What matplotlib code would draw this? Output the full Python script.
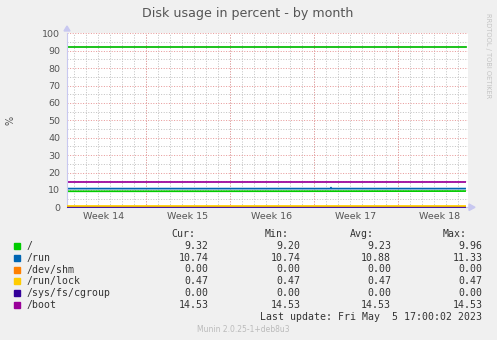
import matplotlib
matplotlib.use("Agg")
import matplotlib.pyplot as plt
from matplotlib.patches import Rectangle, Polygon

# ---------------- data ----------------
labels = ["/", "/run", "/dev/shm", "/run/lock", "/sys/fs/cgroup", "/boot"]
colors = ["#00CC00", "#0066B3", "#FF8000", "#FFCC00", "#330099", "#990099"]
line_z = [3, 3, 3, 3.4, 3.2, 3]

# time axis in days since left edge of graph
root_days = [0.0, 10.0, 20.0, 33.25]
root_vals = [9.20, 9.22, 9.25, 9.32]
run_days = [0.0, 21.96, 22.0, 22.04, 33.25]
run_vals = [10.74, 10.74, 11.33, 10.74, 10.74]
shm_days = [0.0, 33.25]
shm_vals = [0.00, 0.00]
lock_days = [0.0, 33.25]
lock_vals = [0.47, 0.47]
cgroup_days = [0.0, 33.25]
cgroup_vals = [0.00, 0.00]
boot_days = [0.0, 33.25]
boot_vals = [14.53, 14.53]
warning_days = [0.0, 33.25]
warning_vals = [92.0, 92.0]

series_days = [root_days, run_days, shm_days, lock_days, cgroup_days, boot_days]
series_vals = [root_vals, run_vals, shm_vals, lock_vals, cgroup_vals, boot_vals]

week_labels = ["Week 14", "Week 15", "Week 16", "Week 17", "Week 18"]
first_week_boundary = 6.56
x_max = 33.42

cur = ["9.32", "10.74", "0.00", "0.47", "0.00", "14.53"]
mins = ["9.20", "10.74", "0.00", "0.47", "0.00", "14.53"]
avgs = ["9.23", "10.88", "0.00", "0.47", "0.00", "14.53"]
maxs = ["9.96", "11.33", "0.00", "0.47", "0.00", "14.53"]

title = "Disk usage in percent - by month"
last_update = "Last update: Fri May  5 17:00:02 2023"
munin_ver = "Munin 2.0.25-1+deb8u3"

# ---------------- figure ----------------
W, H = 497, 340
fig = plt.figure(figsize=(W / 100, H / 100), dpi=100, facecolor="#F0F0F0")

def fx(px):
    return px / W

def fy(py):
    return 1 - py / H

ax = fig.add_axes([fx(67), fy(207.3), fx(468) - fx(67), (207.3 - 33.3) / H])
ax.set_facecolor("white")
ax.set_xlim(0, x_max)
ax.set_ylim(0, 100)

week_bounds = [first_week_boundary + 7 * k for k in range(4)]
week_centers = [first_week_boundary - 3.5 + 7 * k for k in range(5)]
day_lines = [first_week_boundary - 6 + k for k in range(33)]

grid_minor = dict(color="#C4C4C4", linewidth=0.72, linestyle=(0, (1, 1.6)))
grid_major = dict(color="#E89A9A", linewidth=0.72, linestyle=(0, (1, 1.6)))

ax.set_xticks(week_centers, week_labels)
ax.set_xticks(day_lines, minor=True)
ax.set_yticks(range(0, 101, 10))
ax.set_yticks(range(5, 100, 10), minor=True)
ax.grid(False)
ax.xaxis.grid(True, which="minor", **grid_minor)
ax.yaxis.grid(True, which="minor", **grid_minor)
ax.yaxis.grid(True, which="major", **grid_major)
for b in week_bounds:
    ax.axvline(b, zorder=0.6, **grid_major)
ax.set_axisbelow(True)

ax.tick_params(axis="both", which="both", length=0)
ax.tick_params(axis="y", pad=5, labelsize=6.8, labelcolor="#555555")
ax.tick_params(axis="x", pad=3.5, labelsize=6.8, labelcolor="#555555")

for s in ["top", "right"]:
    ax.spines[s].set_visible(False)
for s in ["left", "bottom"]:
    ax.spines[s].set_color("#C8C8F0")
    ax.spines[s].set_linewidth(0.8)
    ax.spines[s].set_zorder(3.1)

# series
ax.plot(warning_days, warning_vals, color="#00BB00", linewidth=1.25, zorder=3)
for d, v, c, z in zip(series_days, series_vals, colors, line_z):
    ax.plot(d, v, color=c, linewidth=1.25, zorder=z, solid_capstyle="butt",
            clip_on=False)

# axis arrows
fig.add_artist(Polygon([[fx(64), fy(31)], [fx(70), fy(31)], [fx(67), fy(26)]],
                       closed=True, color="#C8C8F0", transform=fig.transFigure))
fig.add_artist(Polygon([[fx(469), fy(204)], [fx(469), fy(210.5)], [fx(475), fy(207.3)]],
                       closed=True, color="#C8C8F0", transform=fig.transFigure))

# texts
fig.text(fx(248), fy(13), title, ha="center", va="center", fontsize=9.1,
         color="#555555", family="DejaVu Sans")
fig.text(fx(10), fy(120), "%", ha="center", va="center", rotation=90,
         fontsize=7, color="#555555")
fig.text(fx(488), fy(56), "RRDTOOL / TOBI OETIKER", ha="center", va="center",
         rotation=270, fontsize=4.8, color="#C4C4C4")

mono = "DejaVu Sans Mono"
fs = 7.1
tcol = "#333333"
hdr_y = 234
fig.text(fx(195), fy(hdr_y), "Cur:", ha="right", va="center", family=mono, fontsize=fs, color=tcol)
fig.text(fx(289), fy(hdr_y), "Min:", ha="right", va="center", family=mono, fontsize=fs, color=tcol)
fig.text(fx(374), fy(hdr_y), "Avg:", ha="right", va="center", family=mono, fontsize=fs, color=tcol)
fig.text(fx(467), fy(hdr_y), "Max:", ha="right", va="center", family=mono, fontsize=fs, color=tcol)

row_y0 = 245.7
row_dy = 11.9
for i, (lab, c) in enumerate(zip(labels, colors)):
    y = row_y0 + i * row_dy
    fig.add_artist(Rectangle((fx(14), fy(y + 3)), 6 / W, 6 / H, color=c,
                             transform=fig.transFigure))
    fig.text(fx(26.5), fy(y), lab, ha="left", va="center", family=mono, fontsize=fs, color=tcol)
    fig.text(fx(208.5), fy(y), cur[i], ha="right", va="center", family=mono, fontsize=fs, color=tcol)
    fig.text(fx(300.5), fy(y), mins[i], ha="right", va="center", family=mono, fontsize=fs, color=tcol)
    fig.text(fx(391), fy(y), avgs[i], ha="right", va="center", family=mono, fontsize=fs, color=tcol)
    fig.text(fx(482.5), fy(y), maxs[i], ha="right", va="center", family=mono, fontsize=fs, color=tcol)

fig.text(fx(482.5), fy(317), last_update, ha="right", va="center", family=mono,
         fontsize=fs, color=tcol)
fig.text(fx(243.5), fy(329), munin_ver, ha="center", va="center", fontsize=5.5,
         color="#BBBBBB")

fig.savefig("out.png", dpi=100, facecolor=fig.get_facecolor())
